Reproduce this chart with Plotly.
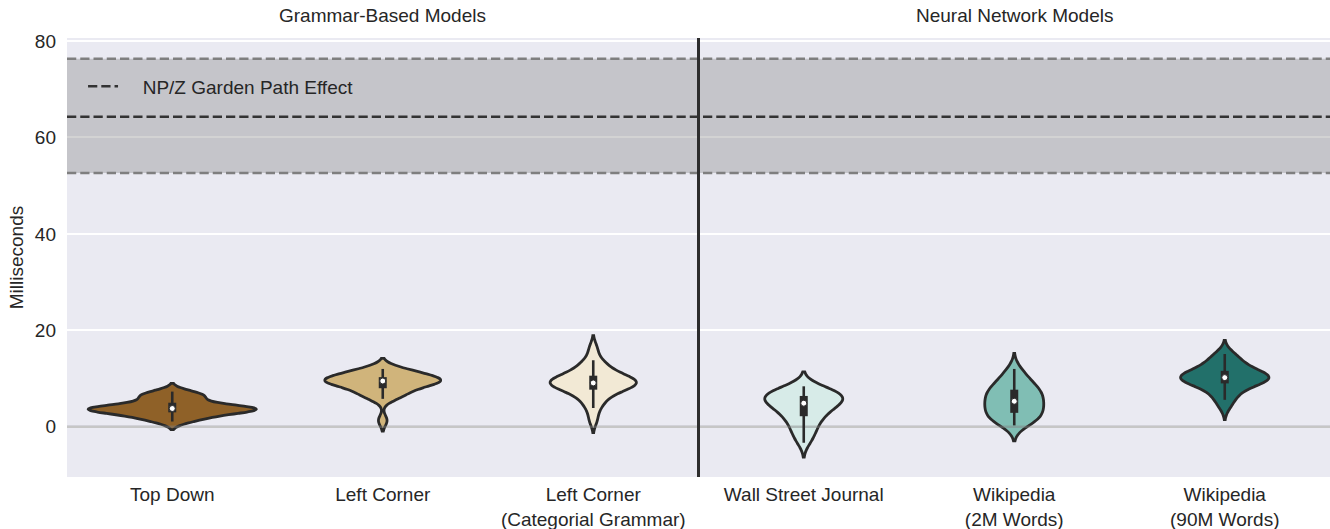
import numpy as np
import plotly.graph_objects as go

# ---------------- data ----------------
categories = ["Top Down", "Left Corner", "Left Corner<br>(Categorial Grammar)",
              "Wall Street Journal", "Wikipedia<br>(2M Words)", "Wikipedia<br>(90M Words)"]
group_titles = ["Grammar-Based Models", "Neural Network Models"]

top_down = [1.1, 1.5, 1.9, 2.3, 2.6, 2.8, 3.0, 3.5, 3.6, 3.7, 3.7, 3.7, 3.8,
            3.8, 3.8, 3.9, 4.0, 4.3, 5.0, 5.4, 5.9, 6.3, 6.6, 6.9, 7.3]
left_corner = [1.3, 5.8, 6.3, 6.8, 7.2, 7.6, 8.0, 8.4, 8.8, 9.1, 9.3, 9.4, 9.5,
               9.5, 9.6, 9.7, 9.8, 10.0, 10.3, 10.6, 10.9, 11.2, 11.5, 11.8, 12.0]
left_corner_ccg = [1.5, 3.9, 5.0, 6.0, 6.8, 7.3, 7.7, 8.1, 8.4, 8.7, 8.9, 9.0, 9.1,
                   9.3, 9.5, 9.7, 9.9, 10.2, 10.6, 11.0, 11.5, 12.2, 13.0, 13.8, 16.2]
wsj = [-3.3, -1.9, -0.9, 0.0, 0.9, 1.6, 2.2, 2.8, 3.3, 3.7, 4.1, 4.5, 4.9,
       5.2, 5.5, 5.7, 5.9, 6.1, 6.4, 6.7, 7.0, 7.3, 7.6, 8.0, 8.4]
wiki_2m = [0.3, 0.8, 1.3, 1.7, 2.1, 2.5, 2.9, 3.3, 3.7, 4.1, 4.5, 4.9, 5.3,
           5.7, 6.1, 6.5, 6.9, 7.3, 7.7, 8.1, 8.6, 9.2, 9.9, 10.8, 12.0]
wiki_90m = [4.3, 5.6, 6.6, 7.4, 8.1, 8.6, 9.0, 9.3, 9.6, 9.8, 10.0, 10.1, 10.2,
            10.3, 10.5, 10.7, 10.9, 11.2, 11.6, 12.0, 12.5, 13.1, 13.8, 14.5, 15.1]
series = [top_down, left_corner, left_corner_ccg, wsj, wiki_2m, wiki_90m]

effect_label = "NP/Z Garden Path Effect"
effect_low = 52.6
effect_mean = 64.3
effect_high = 76.3

y_ticks = [0, 20, 40, 60, 80]
y_label = "Milliseconds"

# ---------------- styles ----------------
fill_colors = ["#8f6128", "#d0b47b", "#f2e9d5", "#d7ebe8", "#80beb4", "#22706a"]
violin_widths = [0.80, 0.55, 0.41, 0.37, 0.28, 0.42]
bandwidths = [0.85, 1.1, 1.35, 1.5, 1.6, 1.4]
dark = "#2a2a2a"
text_color = "#262626"
font_family = "Liberation Sans, Arial, sans-serif"
fs = 19
x_range = [-0.5, len(categories) - 0.5]
y_range = [-10.4, 80.6]

fig = go.Figure()

for i, vals in enumerate(series):
    fig.add_trace(go.Violin(
        x0=i, y=vals, width=violin_widths[i], bandwidth=bandwidths[i],
        spanmode="soft", points=False, fillcolor=fill_colors[i], opacity=1,
        line=dict(color=dark, width=2.8), box_visible=False,
        meanline_visible=False, scalemode="width", hoverinfo="skip",
        showlegend=False,
    ))

# zero reference line (drawn over the violins)
fig.add_trace(go.Scatter(
    x=x_range, y=[0, 0], mode="lines",
    line=dict(color="rgba(128,128,128,0.45)", width=2.5),
    hoverinfo="skip", showlegend=False,
))

# inner box (seaborn style): whisker, IQR bar, median dot
for i, vals in enumerate(series):
    a = np.asarray(vals, dtype=float)
    q1, q2, q3 = np.percentile(a, [25, 50, 75])
    lim = 1.5 * (q3 - q1)
    lo = a[a >= q1 - lim].min()
    hi = a[a <= q3 + lim].max()
    fig.add_trace(go.Scatter(x=[i, i], y=[lo, hi], mode="lines",
                             line=dict(color=dark, width=2.6),
                             hoverinfo="skip", showlegend=False))
    fig.add_trace(go.Scatter(x=[i, i], y=[q1, q3], mode="lines",
                             line=dict(color=dark, width=8),
                             hoverinfo="skip", showlegend=False))
    fig.add_trace(go.Scatter(x=[i], y=[q2], mode="markers",
                             marker=dict(color="white", size=6,
                                         line=dict(color=dark, width=1)),
                             hoverinfo="skip", showlegend=False))

dash = "9.25px,4px"
shapes = [
    dict(type="rect", xref="paper", x0=0, x1=1, yref="y", y0=effect_low, y1=effect_high,
         fillcolor="rgba(128,128,128,0.35)", line=dict(width=0), layer="above"),
    dict(type="line", xref="paper", x0=0, x1=1, yref="y", y0=effect_low, y1=effect_low,
         line=dict(color="#7f7f7f", width=2.5, dash=dash), layer="above"),
    dict(type="line", xref="paper", x0=0, x1=1, yref="y", y0=effect_high, y1=effect_high,
         line=dict(color="#7f7f7f", width=2.5, dash=dash), layer="above"),
    dict(type="line", xref="paper", x0=0, x1=1, yref="y", y0=effect_mean, y1=effect_mean,
         line=dict(color="#333333", width=2.5, dash=dash), layer="above",
         showlegend=True, name="\u00a0\u00a0\u00a0\u2009" + effect_label),
    dict(type="line", xref="x", x0=2.5, x1=2.5, yref="paper", y0=0, y1=1,
         line=dict(color="#2d2d2d", width=3), layer="above"),
]

annotations = [
    dict(text=group_titles[0], x=1, xref="x", y=1, yref="paper", yanchor="bottom",
         yshift=10, showarrow=False, font=dict(size=fs, color=text_color, family=font_family)),
    dict(text=group_titles[1], x=4, xref="x", y=1, yref="paper", yanchor="bottom",
         yshift=10, showarrow=False, font=dict(size=fs, color=text_color, family=font_family)),
]

fig.update_layout(
    width=1330, height=529, autosize=False,
    margin=dict(l=67, r=0, t=38, b=52),
    paper_bgcolor="white", plot_bgcolor="#eaeaf2",
    font=dict(family=font_family, size=fs, color=text_color),
    violinmode="overlay", violingap=0,
    shapes=shapes, annotations=annotations,
    showlegend=True,
    legend=dict(x=0.0127, xanchor="left", y=0.89, yanchor="middle",
                bgcolor="rgba(0,0,0,0)", font=dict(size=fs, color=text_color),
                itemwidth=30),
    xaxis=dict(range=x_range, tickvals=list(range(len(categories))), ticktext=categories,
               showgrid=False, zeroline=False, showline=False, ticks="",
               automargin=False, ticklabelstandoff=4,
               tickfont=dict(size=fs, color=text_color)),
    yaxis=dict(range=y_range, tickvals=y_ticks, showgrid=True, gridcolor="white",
               gridwidth=1.6, zeroline=False, showline=False, ticks="",
               automargin=False, ticklabelstandoff=10,
               tickfont=dict(size=fs, color=text_color),
               title=dict(text=y_label, standoff=6, font=dict(size=fs, color=text_color))),
)

post = ("document.body.style.margin='0px';"
        "document.body.style.overflow='hidden';"
        "var gd=document.getElementById('{plot_id}');"
        "Plotly.relayout(gd,{width:1330,height:529});")

fig.write_html("out.html", post_script=post,
               config={"responsive": False, "displayModeBar": False})
